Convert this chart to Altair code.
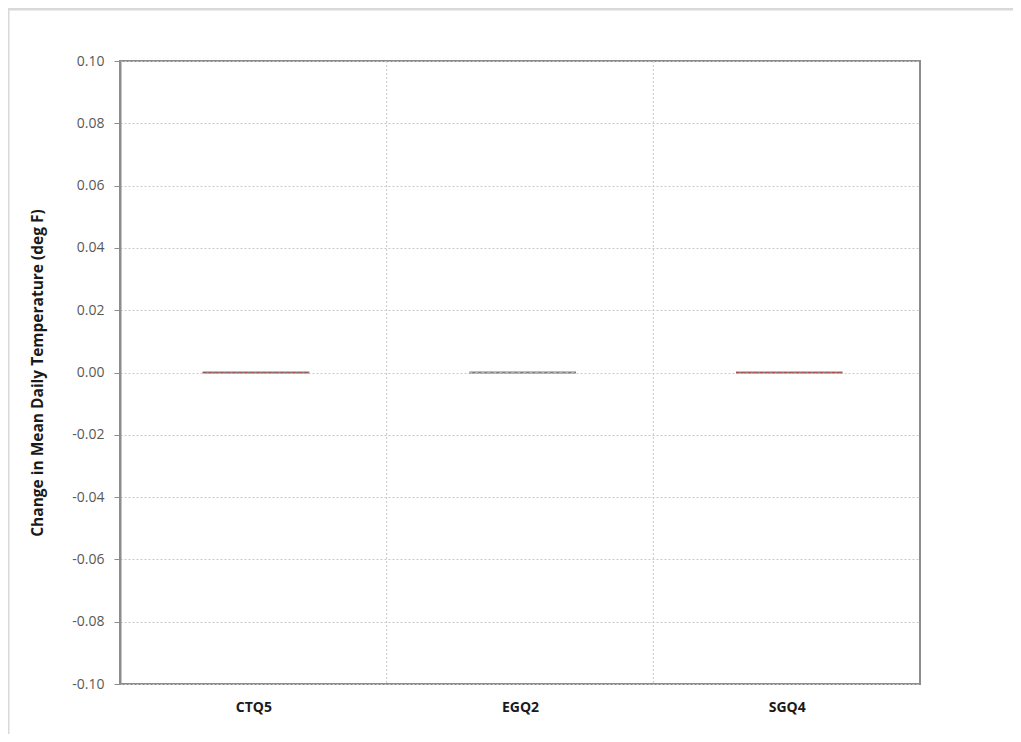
import altair as alt
import pandas as pd

categories = ["CTQ5", "EGQ2", "SGQ4"]
medians = [0.0, 0.0, 0.0]
median_colors = ["#b0504d", "#b3b3b3", "#b0504d"]
y_ticks = [-0.10, -0.08, -0.06, -0.04, -0.02, 0.00, 0.02, 0.04, 0.06, 0.08, 0.10]
boundaries = [1, 2]

df = pd.DataFrame({
    "cat": categories,
    "idx": [i + 0.5 for i in range(len(categories))],
    "value": medians,
    "color": median_colors,
})
bdf = pd.DataFrame({"b": boundaries})
frame_df = pd.DataFrame({"k": [0]})

label_expr = "datum.value < 1 ? 'CTQ5' : datum.value < 2 ? 'EGQ2' : 'SGQ4'"

xscale = alt.Scale(domain=[0, 3], nice=False, zero=False)
yscale = alt.Scale(domain=[-0.1, 0.1], nice=False)

frame = alt.Chart(frame_df).mark_rect(
    filled=False, stroke="#d9d9d9", strokeWidth=3, clip=False
).encode(
    x=alt.value(-112), x2=alt.value(905),
    y=alt.value(-52), y2=alt.value(680),
)

xaxis = alt.Axis(values=[0.5, 1.5, 2.5], labelExpr=label_expr, title=None,
                 grid=False, ticks=False, domain=False,
                 labelFont="Open Sans", labelFontWeight="bold", labelFontSize=14,
                 labelColor="#1a1a1a", labelPadding=16)

vgrid = alt.Chart(bdf).mark_rule(color="#c8c8c8", strokeDash=[2, 2], strokeWidth=1).encode(
    x=alt.X("b:Q", scale=xscale, axis=xaxis),
)

base = alt.Chart(df).transform_calculate(
    x1="datum.idx - 0.19", x2="datum.idx + 0.21"
)

box = base.mark_rule(color="#7f7f7f", strokeWidth=2).encode(
    x=alt.X("x1:Q", scale=xscale, axis=xaxis),
    x2="x2:Q",
    y=alt.Y("value:Q", scale=yscale,
            axis=alt.Axis(values=y_ticks, format=".2f",
                          labelExpr="replace(datum.label, '\u2212', '-')",
                          title="Change in Mean Daily Temperature (deg F)",
                          titleFont="Open Sans", titleFontSize=15.5, titleFontWeight="bold",
                          titleColor="#1a1a1a", titlePadding=26,
                          labelFont="Open Sans", labelFontSize=14, labelColor="#595959",
                          labelPadding=10, tickSize=6, tickColor="#8c8c8c",
                          domainColor="#8c8c8c", domainWidth=2,
                          grid=True, gridColor="#c8c8c8", gridDash=[2, 2])),
)

med = base.mark_rule(strokeWidth=1, strokeDash=[3, 3]).encode(
    x=alt.X("x1:Q", scale=xscale, axis=xaxis),
    x2="x2:Q",
    y=alt.Y("value:Q", scale=yscale),
    color=alt.Color("color:N", scale=None),
)

chart = alt.layer(frame, vgrid, box, med).properties(
    width=800, height=623,
    autosize=alt.AutoSizeParams(type="none"),
    padding={"left": 112, "top": 53, "right": 93, "bottom": 50},
    background="white",
).configure_view(stroke="#8c8c8c", strokeWidth=2)

chart.save("out.html", embed_options={"renderer": "svg", "actions": False})
